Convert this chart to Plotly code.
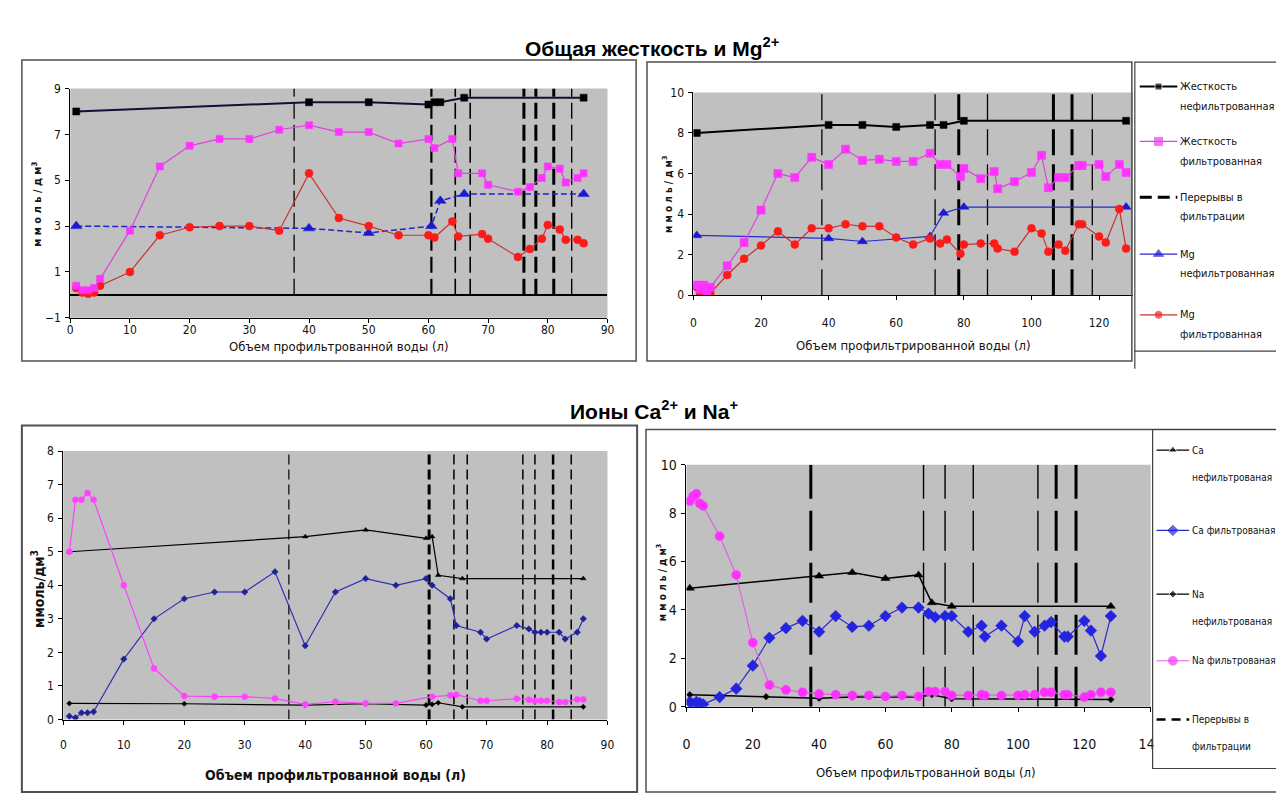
import plotly.graph_objects as go

W, H = 1284, 794

# ---------------- DATA ----------------
# Panel A (top-left): Общая жесткость и Mg, 0–90 л
A_hard_unf_x = [1, 40, 50, 60, 61, 62, 66, 86]
A_hard_unf_y = [8.0, 8.4, 8.4, 8.3, 8.4, 8.4, 8.6, 8.6]
A_hard_f_x = [1, 2, 3, 4, 5, 10, 15, 20, 25, 30, 35, 40, 45, 50, 55, 60, 61, 64, 65, 69, 70, 75, 77, 79, 80, 82, 83, 85, 86]
A_hard_f_y = [0.4, 0.2, 0.2, 0.3, 0.7, 2.8, 5.6, 6.5, 6.8, 6.8, 7.2, 7.4, 7.1, 7.1, 6.6, 6.8, 6.4, 6.8, 5.3, 5.3, 4.8, 4.5, 4.7, 5.1, 5.6, 5.5, 4.9, 5.1, 5.3]
A_mg_unf_x = [1, 40, 50, 60.5, 62, 66, 86]
A_mg_unf_y = [3.0, 2.9, 2.7, 3.0, 4.1, 4.4, 4.4]
A_mg_f_x = [1, 2, 3, 4, 5, 10, 15, 20, 25, 30, 35, 40, 45, 50, 55, 60, 61, 64, 65, 69, 70, 75, 77, 79, 80, 82, 83, 85, 86]
A_mg_f_y = [0.3, 0.1, 0.05, 0.1, 0.4, 1.0, 2.6, 2.95, 3.0, 3.0, 2.8, 5.3, 3.35, 3.0, 2.6, 2.6, 2.5, 3.2, 2.55, 2.65, 2.45, 1.65, 2.0, 2.45, 3.05, 2.85, 2.4, 2.4, 2.25]
A_breaks = [37.5, 60.5, 64.5, 67, 76, 78, 81, 84]

# Panel B (top-right): 0–130 л
B_hard_unf_x = [1, 40, 50, 60, 70, 74, 80, 128]
B_hard_unf_y = [8.0, 8.4, 8.4, 8.3, 8.4, 8.4, 8.6, 8.6]
B_f_x = [1, 2, 3, 4, 5, 10, 15, 20, 25, 30, 35, 40, 45, 50, 55, 60, 65, 70, 73, 75, 79, 80, 85, 89, 90, 95, 100, 103, 105, 108, 110, 114, 115, 120, 122, 126, 128]
B_hard_f_y = [0.5, 0.3, 0.5, 0.2, 0.4, 1.45, 2.6, 4.2, 6.0, 5.8, 6.8, 6.45, 7.2, 6.65, 6.7, 6.6, 6.6, 7.0, 6.45, 6.45, 5.85, 6.25, 5.75, 6.1, 5.25, 5.6, 6.05, 6.9, 5.3, 5.8, 5.8, 6.4, 6.4, 6.45, 5.85, 6.45, 6.05]
B_mg_unf_x = [1, 40, 50, 70, 74, 80, 128]
B_mg_unf_y = [2.95, 2.8, 2.65, 2.9, 4.05, 4.35, 4.35]
B_mg_f_y = [0.4, 0.1, 0.4, 0.1, 0.1, 1.0, 1.8, 2.45, 3.15, 2.5, 3.3, 3.3, 3.5, 3.4, 3.4, 2.85, 2.5, 2.8, 2.55, 2.75, 2.05, 2.5, 2.55, 2.55, 2.3, 2.15, 3.3, 3.05, 2.15, 2.5, 2.2, 3.5, 3.5, 2.9, 2.6, 4.25, 2.3]
B_breaks = [38, 71.5, 78.5, 87, 106.5, 112, 118]

# Panel C (bottom-left): Ионы Ca и Na, 0–90 л
C_ca_unf_x = [1, 40, 50, 60, 61, 62, 66, 86]
C_ca_unf_y = [5.0, 5.45, 5.65, 5.4, 5.45, 4.3, 4.2, 4.2]
C_ca_f_x = [1, 2, 3, 4, 5, 10, 15, 20, 25, 30, 35, 40, 45, 50, 55, 60, 61, 64, 65, 69, 70, 75, 77, 78, 79, 80, 82, 83, 85, 86]
C_ca_f_y = [0.1, 0.05, 0.2, 0.2, 0.23, 1.8, 3.0, 3.6, 3.8, 3.8, 4.4, 2.2, 3.8, 4.2, 4.0, 4.2, 4.0, 3.6, 2.8, 2.6, 2.4, 2.8, 2.7, 2.6, 2.6, 2.6, 2.6, 2.4, 2.6, 3.0]
C_na_unf_x = [1, 20, 40, 50, 60, 61, 62, 66, 86]
C_na_unf_y = [0.48, 0.47, 0.43, 0.47, 0.43, 0.45, 0.5, 0.38, 0.38]
C_na_f_x = [1, 2, 3, 4, 5, 10, 15, 20, 25, 30, 35, 40, 45, 50, 55, 61, 64, 65, 69, 70, 75, 77, 78, 79, 80, 82, 83, 85, 86]
C_na_f_y = [5.0, 6.55, 6.55, 6.75, 6.55, 4.0, 1.52, 0.7, 0.68, 0.68, 0.63, 0.45, 0.53, 0.48, 0.48, 0.68, 0.72, 0.74, 0.56, 0.56, 0.62, 0.59, 0.56, 0.56, 0.56, 0.52, 0.52, 0.6, 0.6]
C_breaks = [37.3, 60.5, 64.6, 66.8, 76, 78, 81, 84]

# Panel D (bottom-right): 0–140 л
D_ca_unf_x = [1, 40, 50, 60, 70, 74, 80, 128]
D_ca_unf_y = [4.9, 5.4, 5.55, 5.3, 5.45, 4.3, 4.15, 4.15]
D_f_x = [1, 2, 3, 4, 5, 10, 15, 20, 25, 30, 35, 40, 45, 50, 55, 60, 65, 70, 73, 75, 78, 80, 85, 89, 90, 95, 100, 102, 105, 108, 110, 114, 115, 120, 122, 125, 128]
D_ca_f_y = [0.2, 0.1, 0.2, 0.15, 0.1, 0.4, 0.75, 1.7, 2.85, 3.25, 3.55, 3.1, 3.75, 3.3, 3.35, 3.75, 4.1, 4.1, 3.85, 3.7, 3.75, 3.75, 3.1, 3.35, 2.9, 3.35, 2.7, 3.75, 3.1, 3.35, 3.5, 2.9, 2.9, 3.55, 3.15, 2.1, 3.75]
D_na_unf_x = [1, 24, 40, 50, 60, 70, 74, 80, 128]
D_na_unf_y = [0.5, 0.42, 0.35, 0.4, 0.4, 0.4, 0.5, 0.33, 0.3]
D_na_f_y = [8.5, 8.7, 8.8, 8.4, 8.3, 7.05, 5.45, 2.65, 0.9, 0.7, 0.6, 0.53, 0.5, 0.47, 0.47, 0.43, 0.47, 0.43, 0.63, 0.63, 0.63, 0.47, 0.47, 0.5, 0.47, 0.47, 0.47, 0.5, 0.5, 0.6, 0.6, 0.5, 0.5, 0.4, 0.5, 0.6, 0.6]
D_breaks = [37.5, 71.5, 78, 86.5, 106, 111.5, 117.5]

# Text
TITLE_TOP = "<b>Общая жесткость и Mg<sup>2+</sup></b>"
TITLE_BOT = "<b>Ионы Ca<sup>2+</sup> и Na<sup>+</sup></b>"
XT_A = "Объем профильтрованной воды (л)"
XT_B = "Объем профильтрированной воды (л)"
XT_C = "<b>Объем профильтрованной воды (л)</b>"
XT_D = "Объем профильтрованной воды (л)"
YT = "м м о л ь / д м<sup>3</sup>"

# ---------------- STYLE / LAYOUT ----------------
NARROW = "DejaVu Sans Condensed, Liberation Sans Narrow, Arial Narrow, Roboto Condensed, Liberation Sans, sans-serif"
SANS = "Liberation Sans, Arial, sans-serif"
GRAY = "#c0c0c0"
MAG = "#ff33ff"
BLUE = "#1a1ad6"
RED = "#ff1a1a"


def px(x):
    return x / W


def py(y):
    return 1 - y / H


fig = go.Figure()

panels = {
    "A": dict(xa="x", ya="y", xd=(59, 603), yd=(74, 308), xr=[0, 90], yr=[-1, 9], dx=10, y0=-1, dy=2),
    "B": dict(xa="x2", ya="y2", xd=(690, 1135), yd=(78, 285), xr=[0, 130], yr=[0, 10], dx=20, y0=0, dy=2),
    "C": dict(xa="x3", ya="y3", xd=(52, 603), yd=(444, 718), xr=[0, 90], yr=[0, 8], dx=10, y0=0, dy=1),
    "D": dict(xa="x4", ya="y4", xd=(683, 1153), yd=(458, 705), xr=[0, 140], yr=[0, 10], dx=20, y0=0, dy=2),
}


def add_breaks(p, breaks, widths, dash):
    ymin = 0
    ymax = p["yr"][1]
    for b, w in zip(breaks, widths):
        fig.add_trace(go.Scatter(x=[b, b], y=[ymin, ymax], mode="lines",
                                 line=dict(color="black", width=w, dash=dash),
                                 xaxis=p["xa"], yaxis=p["ya"], showlegend=False, hoverinfo="skip"))


def add_series(p, x, y, lcolor, lwidth, symbol, msize, mcolor, dash="solid", mline=None):
    fig.add_trace(go.Scatter(
        x=x, y=y, mode="lines+markers",
        line=dict(color=lcolor, width=lwidth, dash=dash),
        marker=dict(symbol=symbol, size=msize, color=mcolor,
                    line=dict(color=mline or mcolor, width=0.5)),
        xaxis=p["xa"], yaxis=p["ya"], showlegend=False, hoverinfo="skip"))


pA, pB, pC, pD = panels["A"], panels["B"], panels["C"], panels["D"]

# Panel A
add_breaks(pA, A_breaks, [1.3, 2.2, 1.6, 1.6, 3, 3, 3, 1.4], "16px,6px")
add_series(pA, A_mg_unf_x, A_mg_unf_y, "#2323c8", 1.5, "triangle-up", 10, BLUE, dash="6px,3px")
add_series(pA, A_mg_f_x, A_mg_f_y, "#c83232", 1.2, "circle", 8, RED)
add_series(pA, A_hard_f_x, A_hard_f_y, "#dd44dd", 1.2, "square", 7, MAG)
add_series(pA, A_hard_unf_x, A_hard_unf_y, "#10103a", 2, "square", 7, "black")

# Panel B
add_breaks(pB, B_breaks, [1.3, 1.3, 3, 1.3, 3, 3, 1.3], "26px,9px")
add_series(pB, B_mg_unf_x, B_mg_unf_y, "#2a2ad0", 1.2, "triangle-up", 9, BLUE)
add_series(pB, B_f_x, B_mg_f_y, "#c83232", 1.2, "circle", 8, RED)
add_series(pB, B_f_x, B_hard_f_y, "#dd44dd", 1.2, "square", 8, MAG)
add_series(pB, B_hard_unf_x, B_hard_unf_y, "black", 2, "square", 7, "black")

# Panel C
add_breaks(pC, C_breaks, [1.2, 3, 1.5, 1.5, 1.5, 1.5, 2.5, 1.5], "10px,5px")
add_series(pC, C_na_unf_x, C_na_unf_y, "black", 1.2, "diamond", 4, "black")
add_series(pC, C_ca_unf_x, C_ca_unf_y, "black", 1.2, "triangle-up", 5, "black")
add_series(pC, C_ca_f_x, C_ca_f_y, "#3030b0", 1.2, "diamond", 5, "#20209a")
add_series(pC, C_na_f_x, C_na_f_y, "#ff40ff", 1.2, "circle", 6, "#ff44ff")

# Panel D
add_breaks(pD, D_breaks, [3, 1.4, 1.4, 1.4, 1.4, 3, 3], "40px,12px")
add_series(pD, D_na_unf_x, D_na_unf_y, "black", 1.5, "diamond", 5, "black")
add_series(pD, D_ca_unf_x, D_ca_unf_y, "black", 1.5, "triangle-up", 8, "black")
add_series(pD, D_f_x, D_ca_f_y, "#2828c8", 1.2, "diamond", 9, "#2424e0")
add_series(pD, D_f_x, D_na_f_y, "#e060e0", 1.2, "circle", 9, "#ff30ff")

shapes = []
annotations = []

# Axes
tickfont = dict(family=NARROW, size=12, color="#111")
standoffs = {"A": (-3, 2), "B": (12, 2), "C": (10, 2), "D": (20, 2)}
for k, p in panels.items():
    xn = p["xa"].replace("x", "xaxis")
    yn = p["ya"].replace("y", "yaxis")
    xs, ys = standoffs[k]
    fig.layout[xn] = dict(
        domain=[px(p["xd"][0]), px(p["xd"][1])], range=p["xr"], anchor=p["ya"],
        tickmode="linear", tick0=0, dtick=p["dx"], showgrid=False, zeroline=False,
        showline=True, linecolor="black", linewidth=1, ticks="outside", ticklen=4,
        tickcolor="black", tickfont=tickfont, ticklabelstandoff=xs, fixedrange=True)
    fig.layout[yn] = dict(
        domain=[py(p["yd"][1]), py(p["yd"][0])], range=p["yr"], anchor=p["xa"],
        tickmode="linear", tick0=p["y0"], dtick=p["dy"], showgrid=False,
        zeroline=(k == "A"), zerolinecolor="black", zerolinewidth=1.5,
        showline=True, linecolor="black", linewidth=1, ticks="outside", ticklen=4,
        tickcolor="black", tickfont=tickfont, ticklabelstandoff=ys, fixedrange=True)
    shapes.append(dict(type="rect", xref=f"{p['xa']} domain", yref=f"{p['ya']} domain",
                       x0=0, x1=1, y0=0, y1=1, fillcolor=GRAY, line=dict(width=0), layer="below"))

fig.layout.xaxis2.tickmode = "array"
fig.layout.xaxis2.tickvals = [0, 20, 40, 60, 80, 100, 120]
fig.layout.xaxis4.tickfont = dict(family=NARROW, size=14, color="#111")
fig.layout.yaxis4.tickfont = dict(family=NARROW, size=14, color="#111")

# Overlay axis for legend symbols (pixel space)
fig.layout.xaxis5 = dict(domain=[0, 1], range=[0, W], visible=False, anchor="y5", fixedrange=True)
fig.layout.yaxis5 = dict(domain=[0, 1], range=[H, 0], visible=False, anchor="x5", fixedrange=True)


def rect(x0, y0, x1, y1, color="#505050", width=1.2, layer="above", fill="rgba(0,0,0,0)"):
    shapes.append(dict(type="rect", xref="paper", yref="paper", x0=px(x0), x1=px(x1),
                       y0=py(y1), y1=py(y0), line=dict(color=color, width=width),
                       fillcolor=fill, layer=layer))


# Panel frames
rect(10, 45, 632, 352, width=1.5)
rect(643, 47, 1134, 352, width=1.5)
rect(10, 418, 633, 792, width=2)
rect(642, 422, 1290, 792, width=1.5)
# Legend boxes
rect(1137, 47, 1290, 342, color="#404040", width=1.2)
shapes.append(dict(type="line", xref="paper", yref="paper", x0=px(1137), x1=px(1137),
                   y0=py(342), y1=py(360), line=dict(color="#404040", width=1.2)))
rect(1156, 726, 1200, 756, color="rgba(0,0,0,0)", width=0, fill="white")
rect(1155, 422, 1290, 768, color="#404040", width=1.2)


def leg_symbol(x0, x1, y, lcolor, lw, symbol=None, msize=0, mcolor=None, dash="solid"):
    xm = (x0 + x1) / 2
    fig.add_trace(go.Scatter(
        x=[x0, xm, x1], y=[y, y, y], mode="lines+markers" if symbol else "lines",
        line=dict(color=lcolor, width=lw, dash=dash),
        marker=dict(symbol=symbol or "circle", size=[0, msize, 0], color=mcolor or lcolor),
        xaxis="x5", yaxis="y5", showlegend=False, hoverinfo="skip"))


def leg_text(x, y, text, size=12):
    annotations.append(dict(xref="paper", yref="paper", x=px(x), y=py(y), text=text,
                            showarrow=False, xanchor="left", yanchor="middle",
                            font=dict(family=NARROW, size=size, color="#111")))


TL = [
    (72, ["Жесткость", "нефильтрованная"], dict(lcolor="black", lw=2, symbol="square", msize=7)),
    (128, ["Жесткость", "фильтрованная"], dict(lcolor="#dd44dd", lw=1.2, symbol="square", msize=8, mcolor=MAG)),
    (185, ["Перерывы в", "фильтрации"], dict(lcolor="black", lw=3, dash="12px,6px")),
    (243, ["Mg", "нефильтрованная"], dict(lcolor="#2a2ad0", lw=1.2, symbol="triangle-up", msize=9, mcolor=BLUE)),
    (305, ["Mg", "фильтрованная"], dict(lcolor="#c83232", lw=1.2, symbol="circle", msize=7, mcolor=RED)),
]
for y, lines, st in TL:
    leg_symbol(1142, 1180, y, **st)
    leg_text(1181, y, lines[0], size=11)
    leg_text(1181, y + 20, lines[1], size=11)

BL = [
    (443, ["Ca", "нефильтрованая"], dict(lcolor="black", lw=1.2, symbol="triangle-up", msize=8)),
    (525, ["Са фильтрованая"], dict(lcolor="#2828c8", lw=1.2, symbol="diamond", msize=8, mcolor="#2424e0")),
    (590, ["Na", "нефильтрованая"], dict(lcolor="black", lw=1.2, symbol="diamond", msize=6)),
    (658, ["Na фильтрованая"], dict(lcolor="#e060e0", lw=1.2, symbol="circle", msize=9, mcolor="#ff30ff")),
    (718, ["Перерывы в", "фильтрации"], dict(lcolor="black", lw=2.5, dash="9px,6px")),
]
for y, lines, st in BL:
    leg_symbol(1159, 1192, y, **st)
    leg_text(1193, y, lines[0], size=10)
    if len(lines) > 1:
        leg_text(1193, y + 28, lines[1], size=10)

annotations.append(dict(xref="paper", yref="paper", x=px(648), y=py(32), text=TITLE_TOP, showarrow=False,
                        xanchor="center", yanchor="middle", font=dict(family=SANS, size=21, color="black")))
annotations.append(dict(xref="paper", yref="paper", x=px(650), y=py(402), text=TITLE_BOT, showarrow=False,
                        xanchor="center", yanchor="middle", font=dict(family=SANS, size=21, color="black")))


def ann(x, y, text, size, angle=0):
    annotations.append(dict(xref="paper", yref="paper", x=px(x), y=py(y), text=text, showarrow=False,
                            xanchor="center", yanchor="middle", textangle=angle,
                            font=dict(family=NARROW, size=size, color="#111")))


ann(331, 337, XT_A, 13)
ann(913, 336, XT_B, 13)
ann(328, 775, XT_C, 14)
ann(926, 772, XT_D, 13)
ann(25, 192, "<b>" + YT + "</b>", 11, angle=-90)
ann(664, 182, "<b>" + YT + "</b>", 10, angle=-90)
ann(27, 585, "<b>ммоль/дм<sup>3</sup></b>", 14, angle=-90)
ann(658, 578, "<b>" + YT + "</b>", 10, angle=-90)

fig.update_layout(
    width=W, height=H, autosize=False,
    margin=dict(l=0, r=0, t=0, b=0),
    paper_bgcolor="white", plot_bgcolor="rgba(0,0,0,0)",
    shapes=shapes, annotations=annotations, showlegend=False,
)

fig.write_html("out.html")
